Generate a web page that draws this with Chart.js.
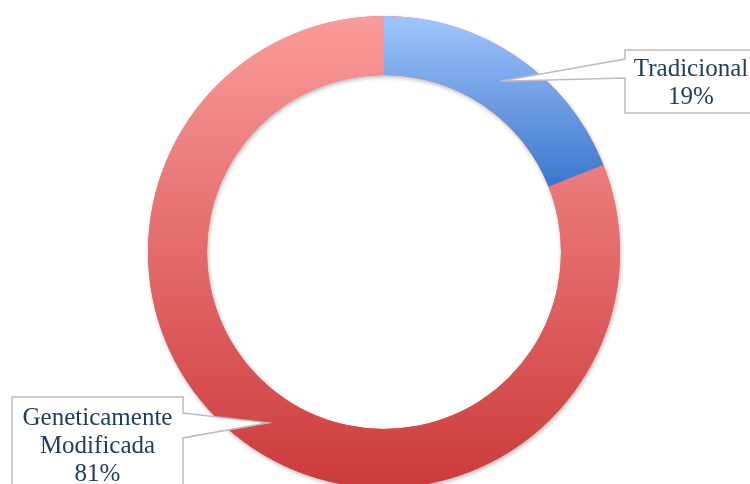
<!DOCTYPE html>
<html>
<head>
<meta charset="utf-8">
<script src="https://cdn.jsdelivr.net/npm/chart.js@4/dist/chart.umd.min.js"></script>
<style>
  html, body { margin: 0; padding: 0; background: #fff; overflow: hidden; }
  #wrap { width: 750px; height: 500px; position: relative; }
</style>
</head>
<body>
<div id="wrap"><canvas id="semillas"></canvas></div>
<script>
// tipos de semilla
var labels = ['Tradicional', 'Geneticamente Modificada'];
var labelLines = [['Tradicional'], ['Geneticamente', 'Modificada']];
var values = [19, 81];

// top / bottom colours of each slice gradient
var gradTop = ['#9fc5fc', '#fb9b9b'];
var gradBottom = ['#3b76cc', '#cc3a3a'];

// callout boxes: box rect, where the pointer leaves the box, first text line
var callouts = [
  { x: 625, y: 50, w: 132, h: 63, side: 'left', p1: 59, p2: 78, textY: 69 },
  { x: 12, y: 397, w: 171, h: 110, side: 'right', p1: 413, p2: 438, textY: 418 }
];

function sliceGradient(ctx) {
  var chart = ctx.chart;
  var area = chart.chartArea;
  if (!area) return gradTop[ctx.dataIndex];
  var i = ctx.dataIndex;
  var total = values.reduce(function(a, b) { return a + b; }, 0);
  var start = 0;
  for (var k = 0; k < i; k++) start += values[k] / total * 360;
  var end = start + values[i] / total * 360;
  var cy = (area.top + area.bottom) / 2;
  var r = Math.min(area.right - area.left, area.bottom - area.top) / 2;
  // vertical extent of the slice (angles measured clockwise from top)
  var ys = [];
  [start, end].forEach(function(a) {
    ys.push(cy - r * Math.cos(a * Math.PI / 180));
    ys.push(cy - r * 0.75 * Math.cos(a * Math.PI / 180));
  });
  if (start <= 0) ys.push(cy - r);
  if (start <= 180 && end >= 180) ys.push(cy + r);
  var y0 = Math.min.apply(null, ys), y1 = Math.max.apply(null, ys);
  var g = chart.ctx.createLinearGradient(0, y0, 0, y1);
  g.addColorStop(0, gradTop[i]);
  g.addColorStop(1, gradBottom[i]);
  return g;
}

// soft shadow under the whole ring, drawn once so slices have no seam
var sombra = {
  id: 'sombra',
  beforeDatasetsDraw: function(chart) {
    var a = chart.getDatasetMeta(0).data[0];
    if (!a) return;
    var c = chart.ctx;
    c.save();
    c.shadowColor = 'rgba(0,0,0,0.28)';
    c.shadowBlur = 4;
    c.shadowOffsetX = 1;
    c.shadowOffsetY = 2;
    c.beginPath();
    c.arc(a.x, a.y, a.outerRadius, 0, Math.PI * 2);
    c.arc(a.x, a.y, a.innerRadius, Math.PI * 2, 0, true);
    c.closePath();
    c.fillStyle = '#e07070';
    c.fill();
    c.restore();
  }
};

var etiquetas = {
  id: 'etiquetas',
  afterDraw: function(chart) {
    var c = chart.ctx;
    var arcs = chart.getDatasetMeta(0).data;
    var total = values.reduce(function(a, b) { return a + b; }, 0);
    arcs.forEach(function(arc, i) {
      var b = callouts[i];
      var mid = (arc.startAngle + arc.endAngle) / 2;
      var rr = (arc.innerRadius + arc.outerRadius) / 2;
      var tx = arc.x + Math.cos(mid) * rr;
      var ty = arc.y + Math.sin(mid) * rr;
      c.save();
      c.beginPath();
      if (b.side === 'left') {
        c.moveTo(b.x, b.y);
        c.lineTo(b.x + b.w, b.y);
        c.lineTo(b.x + b.w, b.y + b.h);
        c.lineTo(b.x, b.y + b.h);
        c.lineTo(b.x, b.p2);
        c.lineTo(tx, ty);
        c.lineTo(b.x, b.p1);
      } else {
        c.moveTo(b.x, b.y);
        c.lineTo(b.x + b.w, b.y);
        c.lineTo(b.x + b.w, b.p1);
        c.lineTo(tx, ty);
        c.lineTo(b.x + b.w, b.p2);
        c.lineTo(b.x + b.w, b.y + b.h);
        c.lineTo(b.x, b.y + b.h);
      }
      c.closePath();
      c.fillStyle = '#ffffff';
      c.fill();
      c.strokeStyle = '#bdbdbd';
      c.lineWidth = 1.5;
      c.stroke();

      var lines = labelLines[i].concat([Math.round(values[i] / total * 100) + '%']);
      c.fillStyle = '#213c60';
      c.font = '25px "Liberation Serif"';
      c.textAlign = 'center';
      c.textBaseline = 'middle';
      var cx = b.x + b.w / 2;
      var lh = 28;
      lines.forEach(function(t, j) {
        c.fillText(t, cx, b.textY + j * lh);
      });
      c.restore();
    });
  }
};

new Chart(document.getElementById('semillas'), {
  type: 'doughnut',
  data: {
    labels: labels,
    datasets: [{
      data: values,
      backgroundColor: sliceGradient,
      borderWidth: 0,
      hoverOffset: 0
    }]
  },
  options: {
    responsive: true,
    maintainAspectRatio: false,
    animation: false,
    cutout: '75%',
    layout: { padding: { left: 148, right: 130, top: 16, bottom: 12 } },
    plugins: {
      legend: { display: false },
      tooltip: { enabled: false }
    }
  },
  plugins: [sombra, etiquetas]
});
</script>
</body>
</html>
